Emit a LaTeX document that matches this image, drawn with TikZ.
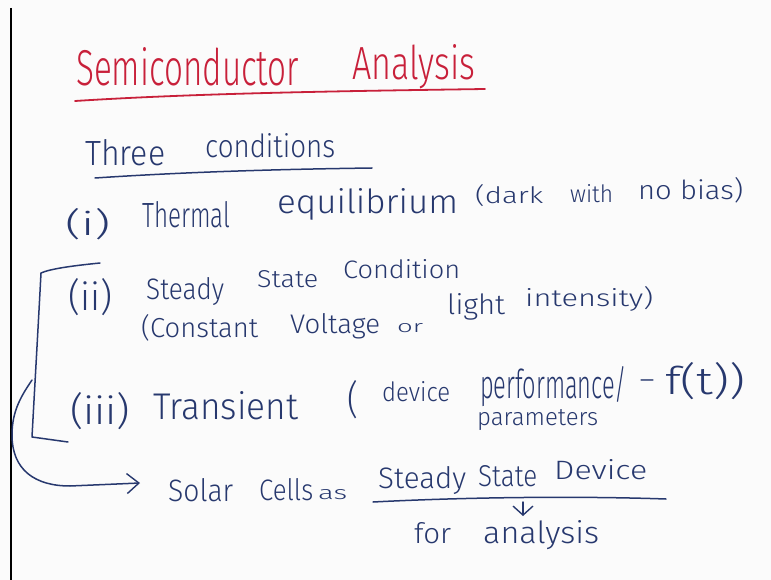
\documentclass[tikz,border=0pt]{standalone}
\usepackage{fontspec}
\usepackage{graphicx}
\setmainfont{Fira Sans Light}
\usetikzlibrary{arrows.meta}
\definecolor{inkred}{HTML}{C8203A}
\definecolor{inkblue}{HTML}{27386E}
\definecolor{paper}{HTML}{FBFBFB}
% word scaled to a given width and height above the baseline (in pt)
\newcommand\hw[3]{\resizebox{#1pt}{#2pt}{#3}}
\tikzset{
  word/.style={inner sep=0pt, anchor=base west, text=inkblue},
  redword/.style={inner sep=0pt, anchor=base west, text=inkred},
  pen/.style={draw=inkblue, line width=1.5pt, line cap=round, line join=round},
  redpen/.style={draw=inkred, line width=1.8pt, line cap=round},
  bigbarb/.style={-{Straight Barb[length=12pt,width=20pt,line width=1.4pt]}},
  barb/.style={-{Straight Barb[length=9pt,width=20pt,line width=1.4pt]}}
}
\begin{document}
\begin{tikzpicture}[x=1pt,y=-1pt]
\useasboundingbox (0,0) rectangle (771,580);
\fill[paper] (0,0) rectangle (771,580);
\draw[black, line width=1.2pt] (11,8) -- (11,580);

% title
\node[redword] (semi) at (76,86) {\hw{223}{38}{Semiconductor}};
\node[redword] (anal) at (352,80) {\hw{123}{35}{Analysis}};
\draw[redpen] (75,101) .. controls (200,93) and (350,91) .. (485,89);

% heading
\node[word] (three) at (85,166) {\hw{80}{26}{Three}};
\node[word] (cond) at (205,158) {\hw{130}{24}{conditions}};
\draw[pen] (95,178) .. controls (200,171) and (300,169) .. (372,168);

% (i)
\node[word] (n1) at (65,236) {\hw{45}{27}{(i)}};
\node[word] (therm) at (142,228) {\hw{88}{26}{Thermal}};
\node[word] (equil) at (277,214) {\hw{181}{25}{equilibrium}};
\node[word] (dark) at (475,204) {\hw{68}{19}{(dark}};
\node[word] (with) at (570,202) {\hw{43}{18}{with}};
\node[word] (bias) at (638,200) {\hw{105}{22}{no bias)}};

% (ii)
\node[word] (n2) at (68,310) {\hw{44}{32}{(ii)}};
\node[word] (stdy) at (146,299) {\hw{78}{22}{Steady}};
\node[word] (stat) at (257,287) {\hw{61}{17}{State}};
\node[word] (cndn) at (343,278) {\hw{117}{19}{Condition}};
\node[word] (const) at (141,337) {\hw{117}{23}{(Constant}};
\node[word] (volt) at (290,333) {\hw{90}{20}{Voltage}};
\node[word] (or) at (397,332) {\hw{26}{9}{or}};
\node[word] (light) at (447,314) {\hw{58}{21}{light}};
\node[word] (inten) at (525,306) {\hw{128}{20}{intensity)}};

% (iii)
\node[word] (n3) at (70,424) {\hw{60}{32}{(iii)}};
\node[word] (trans) at (153,419) {\hw{145}{28}{Transient}};
\node[word] (lpar) at (347,413) {\hw{11}{33}{(}};
\node[word] (dev) at (382,401) {\hw{68}{20}{device}};
\node[word] (perf) at (480,398) {\hw{147}{32}{performance/}};
\node[inner sep=0pt, anchor=north, text=inkblue] (dash) at (647,380)
  {\resizebox{15pt}{!}{\fontsize{30}{30}\selectfont –}};
\node[word] (ft) at (665,394) {\hw{80}{32}{f(t))}};
\node[word] (para) at (477,425) {\hw{121}{16}{parameters}};

% bracket grouping (ii) and (iii)
\coordinate (btop) at (100,263);
\coordinate (bbot) at (68,442);
\coordinate (bmid) at (32,380);
\draw[pen] (btop) .. controls (70,266) and (50,269) .. (41,273)
  .. controls (38,330) and (34,400) .. (32,437) -- (bbot);

% conclusion
\node[word] (solar) at (168,501) {\hw{65}{23}{Solar}};
\node[word] (cells) at (259,500) {\hw{54}{22}{Cells}};
\node[word] (as) at (318,499) {\hw{29}{10}{as}};
\node[word] (sdy) at (378,488) {\hw{88}{22}{Steady}};
\node[word] (sst) at (478,486) {\hw{59}{21}{State}};
\node[word] (sdev) at (554,479) {\hw{93}{20}{Device}};
\coordinate (ulA) at (373,502);
\coordinate (ulB) at (666,499);
\draw[pen] (ulA) .. controls (470,497) and (580,496) .. (ulB);
\coordinate (arrtip) at (140,483);
\draw[pen, bigbarb] (bmid) .. controls (22,395) and (12,410) .. (12,435)
  .. controls (12,470) and (35,486) .. (70,486) -- (arrtip);

\node[word] (for) at (414,543) {\hw{37}{21}{for}};
\node[word] (ana) at (483,543) {\hw{116}{23}{analysis}};
\coordinate (dtop) at (523,502);
\coordinate (dbot) at (523,516);
\draw[pen, barb] (dtop) -- (dbot);
\end{tikzpicture}
\end{document}
